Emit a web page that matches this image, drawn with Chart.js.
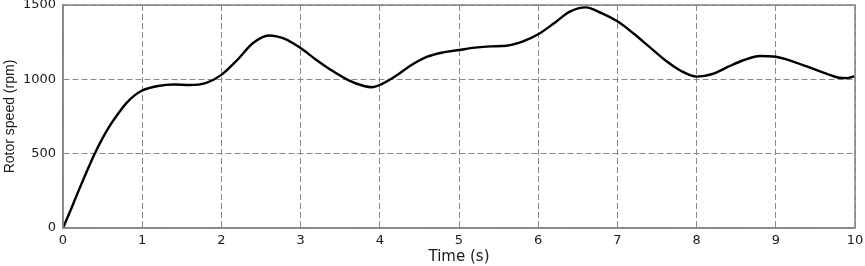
<!DOCTYPE html>
<html>
<head>
<meta charset="utf-8">
<script src="https://cdn.jsdelivr.net/npm/chart.js@4/dist/chart.umd.min.js"></script>
<style>
  html, body { margin: 0; padding: 0; background: #fff; }
  #wrap { width: 865px; height: 266px; }
</style>
</head>
<body>
<div id="wrap"><canvas id="myChart"></canvas></div>
<script>
// time (s) and rotor speed (rpm)
const timeS = [0, 0.1, 0.2, 0.3, 0.4, 0.5, 0.6, 0.7, 0.8, 0.9, 1.0, 1.2, 1.4, 1.6, 1.8,
  2.0, 2.2, 2.4, 2.6, 2.8, 3.0, 3.2, 3.4, 3.6, 3.8, 3.9, 4.0, 4.2, 4.4, 4.6, 4.8,
  5.0, 5.2, 5.4, 5.6, 5.8, 6.0, 6.2, 6.4, 6.6, 6.8, 7.0, 7.2, 7.4, 7.6, 7.8,
  8.0, 8.2, 8.4, 8.6, 8.8, 9.0, 9.2, 9.4, 9.6, 9.8, 9.9, 10.0];
const rotorRpm = [0, 125, 255, 380, 500, 605, 695, 772, 840, 890, 925, 955, 965, 962, 975,
  1030, 1130, 1244, 1295, 1272, 1210, 1130, 1057, 995, 955, 947, 962, 1022, 1096, 1152, 1181,
  1197, 1213, 1222, 1226, 1253, 1303, 1377, 1455, 1484, 1445, 1390, 1310, 1220, 1130, 1058,
  1018, 1036, 1085, 1130, 1157, 1152, 1123, 1085, 1045, 1011, 1008, 1022];
const xTicks = [0, 1, 2, 3, 4, 5, 6, 7, 8, 9, 10];
const yTicks = [0, 500, 1000, 1500];

const pts = timeS.map((t, i) => ({ x: t, y: rotorRpm[i] }));
const tickFont = { family: 'DejaVu Sans, sans-serif', size: 13 };
const txt = '#1a1a1a';
const gridCol = '#8a8a8a';

// solid box around the plot (top and right edges too)
const frame = {
  id: 'frame',
  afterDraw(chart) {
    const a = chart.chartArea, c = chart.ctx;
    c.save();
    c.strokeStyle = '#888';
    c.lineWidth = 1.6;
    c.setLineDash([]);
    c.strokeRect(a.left, a.top, a.right - a.left, a.bottom - a.top);
    c.restore();
  }
};

const ctx = document.getElementById('myChart');
new Chart(ctx, {
  type: 'line',
  data: {
    datasets: [{
      data: pts,
      borderColor: '#000',
      borderWidth: 2.4,
      pointRadius: 0,
      cubicInterpolationMode: 'monotone',
      fill: false
    }]
  },
  options: {
    responsive: true,
    maintainAspectRatio: false,
    animation: false,
    layout: { padding: { top: 5, right: 10, left: 0, bottom: 0 } },
    plugins: { legend: { display: false }, tooltip: { enabled: false } },
    scales: {
      x: {
        type: 'linear',
        min: 0, max: 10,
        afterBuildTicks: s => { s.ticks = xTicks.map(v => ({ value: v })); },
        afterFit: s => { s.height = 38; s.paddingLeft = 0; s.paddingRight = 0; },
        grid: { color: gridCol, lineWidth: 1, drawTicks: false },
        border: { color: gridCol, width: 1.5, dash: [6, 3] },
        ticks: { color: txt, font: tickFont, padding: 5, maxRotation: 0, callback: v => String(v) },
        title: { display: true, text: 'Time (s)', color: txt, font: { family: 'DejaVu Sans, sans-serif', size: 15 }, padding: { top: 0, bottom: 0 } }
      },
      y: {
        min: 0, max: 1500,
        afterBuildTicks: s => { s.ticks = yTicks.map(v => ({ value: v })); },
        afterFit: s => { s.width = 63; s.paddingTop = 0; s.paddingBottom = 0; },
        grid: { color: gridCol, lineWidth: 1, drawTicks: false },
        border: { color: gridCol, width: 1.5, dash: [6, 3] },
        ticks: { color: txt, font: tickFont, padding: 7, callback: v => String(v) },
        title: { display: true, text: 'Rotor speed (rpm)', color: txt, font: { family: 'Liberation Sans, Arial, sans-serif', size: 14 }, padding: { top: 2, bottom: 0 } }
      }
    }
  },
  plugins: [frame]
});
</script>
</body>
</html>
